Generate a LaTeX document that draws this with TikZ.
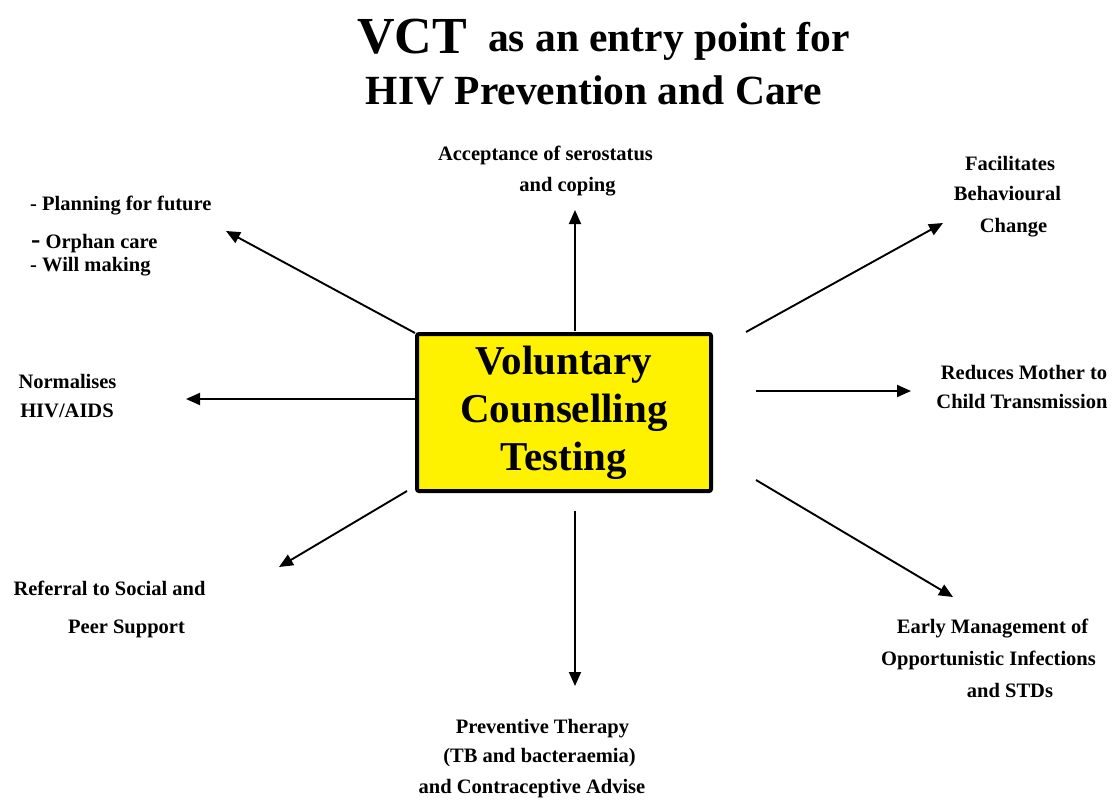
\documentclass[tikz,border=0pt]{standalone}
\usepackage{fontspec}
\setmainfont{Liberation Serif}
\usetikzlibrary{arrows.meta}
\begin{document}
\begin{tikzpicture}[x=1pt,y=-1pt,
  lbl/.style={anchor=base,inner sep=0pt,font=\fontsize{20.5}{24}\selectfont\bfseries},
  lblw/.style={anchor=base west,inner sep=0pt,font=\fontsize{20.5}{24}\selectfont\bfseries},
  arr/.style={line width=1.9pt,-{Triangle[length=14pt,width=12pt]}},
  vctbox/.style={draw=black,line width=4pt,fill=yellow,rounded corners=2pt,
    minimum width=294pt,minimum height=157pt,inner sep=0pt,align=center,
    font=\fontsize{41}{48}\selectfont\bfseries}]
\useasboundingbox (0,0) rectangle (1114,800);
% title
\node[anchor=base,inner sep=0pt,font=\fontsize{52}{52}\selectfont\bfseries] (tvct) at (412,54) {VCT};
\node[anchor=base,inner sep=0pt,font=\fontsize{41.5}{44}\selectfont\bfseries] (tentry) at (669,52) {as an entry point for};
\node[anchor=base,inner sep=0pt,font=\fontsize{41.5}{44}\selectfont\bfseries] (thiv) at (594,104) {HIV Prevention and Care};
% central box
\node[vctbox] (box) at (564,412.5) {Voluntary\\Counselling\\Testing};
% labels
\node[lbl] (acc1) at (545.5,160) {Acceptance of serostatus};
\node[lbl] (acc2) at (567.5,191) {and coping};
\node[lblw] (plan1) at (30,210) {- Planning for future};
\node[lblw] (plan2) at (31,248) {{\fontsize{28}{28}\selectfont -} Orphan care};
\node[lblw] (plan3) at (30,271) {- Will making};
\node[lbl] (fac1) at (1010,170) {Facilitates};
\node[lbl] (fac2) at (1007.5,200) {Behavioural};
\node[lbl] (fac3) at (1013.5,232) {Change};
\node[lbl] (red1) at (1024,379) {Reduces Mother to};
\node[lbl] (red2) at (1022,408) {Child Transmission};
\node[lbl] (norm1) at (67.5,388) {Normalises};
\node[lbl] (norm2) at (67,417) {HIV/AIDS};
\node[lbl] (ref1) at (109.5,595) {Referral to Social and};
\node[lbl] (ref2) at (126.5,633) {Peer Support};
\node[lbl] (early1) at (992.5,633) {Early Management of};
\node[lbl] (early2) at (988.5,665) {Opportunistic Infections};
\node[lbl] (early3) at (1010,697) {and STDs};
\node[lbl] (prev1) at (542.5,733) {Preventive Therapy};
\node[lbl] (prev2) at (539.5,762) {(TB and bacteraemia)};
\node[lbl] (prev3) at (532,793) {and Contraceptive Advise};
% arrow end points
\coordinate (sUL) at (415,333);  \coordinate (tUL) at (226,231);
\coordinate (sU)  at (575,331);  \coordinate (tU)  at (575,210);
\coordinate (sUR) at (746,332);  \coordinate (tUR) at (943,223);
\coordinate (sR)  at (756,391);  \coordinate (tR)  at (911,391);
\coordinate (sDR) at (756,480);  \coordinate (tDR) at (953,597);
\coordinate (sD)  at (575,511);  \coordinate (tD)  at (575,686);
\coordinate (sDL) at (407,491);  \coordinate (tDL) at (279,567);
\coordinate (sL)  at (415,399);  \coordinate (tL)  at (186,399);
% arrows
\draw[arr] (sUL) -- (tUL);
\draw[arr] (sU) -- (tU);
\draw[arr] (sUR) -- (tUR);
\draw[arr] (sR) -- (tR);
\draw[arr] (sDR) -- (tDR);
\draw[arr] (sD) -- (tD);
\draw[arr] (sDL) -- (tDL);
\draw[arr] (sL) -- (tL);
\end{tikzpicture}
\end{document}
